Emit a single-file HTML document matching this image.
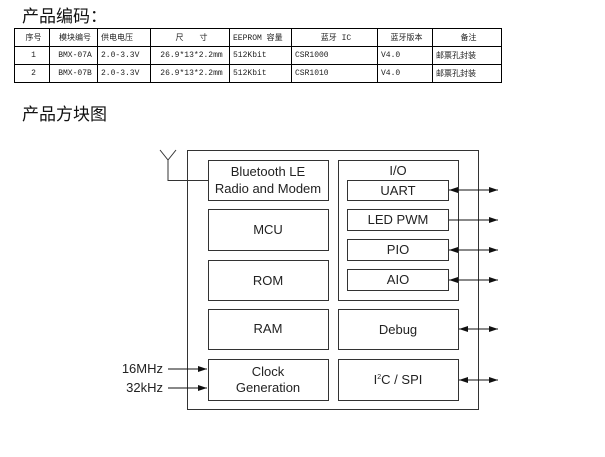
<!DOCTYPE html>
<html><head><meta charset="utf-8"><style>
body{margin:0;width:605px;height:457px;background:#fff;overflow:hidden;position:relative;font-family:"Liberation Sans","Noto Sans CJK SC",sans-serif;}
.t{position:absolute;font-size:17px;color:#111;font-family:"Noto Sans CJK SC",sans-serif;line-height:20px;}
table{position:absolute;left:14px;top:28px;width:487px;table-layout:fixed;border-collapse:collapse;font-size:8px;font-family:"Liberation Mono","Noto Sans CJK SC",monospace;color:#222;}
td{border:1px solid #000;height:18px;padding:0 0 0 3px;white-space:nowrap;overflow:hidden;box-sizing:border-box;}
</style></head><body>
<div class="t" style="left:22px;top:5px">产品编码：</div>
<table>
<colgroup><col style="width:35px"><col style="width:48px"><col style="width:53px"><col style="width:79px"><col style="width:62px"><col style="width:86px"><col style="width:55px"><col style="width:69px"></colgroup>
<tr><td style="text-align:center">序号</td><td style="text-align:center">模块编号</td><td>供电电压</td><td style="text-align:center">尺　　寸</td><td>EEPROM 容量</td><td style="text-align:center">蓝牙 IC</td><td style="text-align:center">蓝牙版本</td><td style="text-align:center">备注</td></tr>
<tr><td style="text-align:center">1</td><td style="text-align:center">BMX-07A</td><td>2.0-3.3V</td><td style="text-align:center">26.9*13*2.2mm</td><td>512Kbit</td><td>CSR1000</td><td>V4.0</td><td>邮票孔封装</td></tr>
<tr><td style="text-align:center">2</td><td style="text-align:center">BMX-07B</td><td>2.0-3.3V</td><td style="text-align:center">26.9*13*2.2mm</td><td>512Kbit</td><td>CSR1010</td><td>V4.0</td><td>邮票孔封装</td></tr>
</table>
<div class="t" style="left:22px;top:103px">产品方块图</div>
<svg width="605" height="457" style="position:absolute;left:0;top:0" font-family="Liberation Sans, sans-serif" font-size="13" fill="none" stroke="#333">
<defs><marker id="a" markerWidth="9" markerHeight="6" refX="9" refY="3" orient="auto-start-reverse" markerUnits="userSpaceOnUse"><path d="M0,0L9,3L0,6z" fill="#111" stroke="none"/></marker></defs>
<rect x="187.5" y="150.5" width="291" height="259"/>
<rect x="208.5" y="160.5" width="120" height="40"/>
<rect x="208.5" y="209.5" width="120" height="41"/>
<rect x="208.5" y="260.5" width="120" height="40"/>
<rect x="208.5" y="309.5" width="120" height="40"/>
<rect x="208.5" y="359.5" width="120" height="41"/>
<rect x="338.5" y="160.5" width="120" height="140"/>
<rect x="347.5" y="180.5" width="101" height="20"/>
<rect x="347.5" y="209.5" width="101" height="21"/>
<rect x="347.5" y="239.5" width="101" height="21"/>
<rect x="347.5" y="269.5" width="101" height="21"/>
<rect x="338.5" y="309.5" width="120" height="40"/>
<rect x="338.5" y="359.5" width="120" height="41"/>
<path d="M160,150L168,160L176,150M168,160V180.5H208"/>
<g stroke="#111">
<line x1="449" y1="190" x2="498" y2="190" marker-start="url(#a)" marker-end="url(#a)"/>
<line x1="449" y1="220" x2="498" y2="220" marker-end="url(#a)"/>
<line x1="449" y1="250" x2="498" y2="250" marker-start="url(#a)" marker-end="url(#a)"/>
<line x1="449" y1="280" x2="498" y2="280" marker-start="url(#a)" marker-end="url(#a)"/>
<line x1="459" y1="329" x2="498" y2="329" marker-start="url(#a)" marker-end="url(#a)"/>
<line x1="459" y1="380" x2="498" y2="380" marker-start="url(#a)" marker-end="url(#a)"/>
<line x1="168" y1="369" x2="207" y2="369" marker-end="url(#a)"/>
<line x1="168" y1="388" x2="207" y2="388" marker-end="url(#a)"/>
</g>
<g fill="#222" stroke="none" text-anchor="middle">
<text x="268" y="176">Bluetooth LE</text><text x="268" y="193">Radio and Modem</text>
<text x="268" y="234">MCU</text><text x="268" y="285">ROM</text><text x="268" y="333">RAM</text>
<text x="268" y="376">Clock</text><text x="268" y="392">Generation</text>
<text x="398" y="175">I/O</text><text x="398" y="195">UART</text><text x="398" y="224">LED PWM</text>
<text x="398" y="254">PIO</text><text x="398" y="284">AIO</text><text x="398" y="334">Debug</text>
<text x="398" y="384">I<tspan font-size="7" dy="-5">2</tspan><tspan dy="5">C / SPI</tspan></text>
<text x="163" y="373" text-anchor="end">16MHz</text><text x="163" y="392" text-anchor="end">32kHz</text>
</g>
</svg>
</body></html>
